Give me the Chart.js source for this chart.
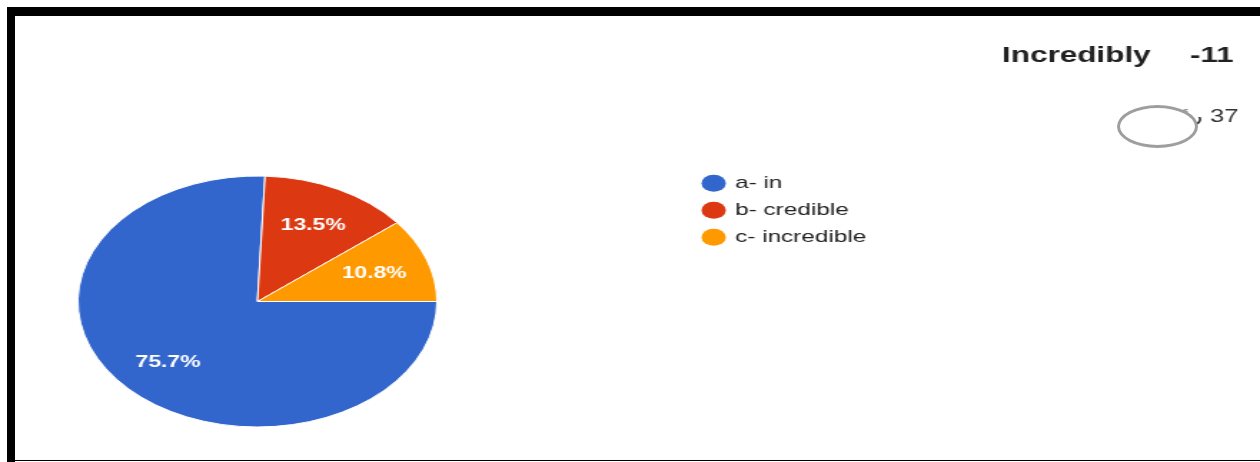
<!DOCTYPE html>
<html>
<head>
<meta charset="utf-8">
<script src="https://cdn.jsdelivr.net/npm/chart.js@4/dist/chart.umd.min.js"></script>
<style>
  html, body { margin: 0; padding: 0; background: #fff; }
  body { width: 1260px; height: 462px; position: relative; overflow: hidden; }
  /* the chart is drawn narrow and widened to the page width */
  #stretch { position: absolute; left: 0; top: 0; width: 881px; height: 462px;
             transform: scaleX(1.4302); transform-origin: 0 0; }
  .edge { position: absolute; background: #000; }
  #mark { position: absolute; left: 1117px; top: 105px; width: 81px; height: 43px;
          box-sizing: border-box; border: 3px solid #9e9e9e; border-radius: 50%; background: #fff; }
</style>
</head>
<body>
<div id="stretch"><canvas id="pie" width="881" height="462"></canvas></div>
<div class="edge" style="left:7px;top:7px;width:1253px;height:9px"></div>
<div class="edge" style="left:7px;top:7px;width:8px;height:455px"></div>
<div class="edge" style="left:7px;top:460px;width:1253px;height:1px"></div>
<div id="mark"></div>
<script>
const labels = ["a- in", "b- credible", "c- incredible"];
const counts = [28, 5, 4];
const colors = ["#3366cc", "#dc3912", "#ff9900"];
const heading = "Incredibly";
const headingScore = "-11";
const responsesWord = "ردًا";

const FONT = "'Liberation Sans', Arial, sans-serif";

// percentage text inside each slice
const sliceText = {
    id: "sliceText",
    afterDatasetsDraw(chart) {
        const ctx = chart.ctx;
        const meta = chart.getDatasetMeta(0);
        const sum = counts.reduce((a, b) => a + b, 0);
        ctx.save();
        ctx.font = "bold 16px " + FONT;
        ctx.fillStyle = "#ffffff";
        ctx.textAlign = "center";
        ctx.textBaseline = "middle";
        meta.data.forEach((arc, i) => {
            const p = arc.getProps(["x", "y", "startAngle", "endAngle", "outerRadius"], true);
            const mid = (p.startAngle + p.endAngle) / 2;
            const d = p.outerRadius * 0.69;
            ctx.fillText((counts[i] / sum * 100).toFixed(1) + "%", p.x + Math.cos(mid) * d, p.y + Math.sin(mid) * d + 1);
        });
        ctx.restore();
    }
};

// legend, heading and response count
const sideText = {
    id: "sideText",
    afterDraw(chart) {
        const ctx = chart.ctx;
        const ds = chart.data.datasets[0];
        ctx.save();
        ctx.textBaseline = "middle";
        ctx.font = "17px " + FONT;
        chart.data.labels.forEach((lab, i) => {
            const y = 183.3 + i * 27;
            ctx.fillStyle = ds.backgroundColor[i];
            ctx.beginPath();
            ctx.arc(499, y, 8.5, 0, Math.PI * 2);
            ctx.fill();
            ctx.fillStyle = "#222222";
            ctx.fillText(lab, 514, y + 0.5);
        });

        ctx.textBaseline = "alphabetic";
        ctx.fillStyle = "#212121";
        ctx.font = "bold 22px " + FONT;
        ctx.fillText(heading, 700.6, 61.5);
        ctx.fillText(headingScore, 832, 61.5);

        const sum = counts.reduce((a, b) => a + b, 0);
        ctx.fillStyle = "#333333";
        ctx.font = "18px " + FONT;
        ctx.fillText(String(sum), 846, 122);
        ctx.font = "18px 'DejaVu Sans', " + FONT;
        ctx.textAlign = "right";
        ctx.fillText(responsesWord, 841, 122);
        ctx.restore();
    }
};

new Chart(document.getElementById("pie").getContext("2d"), {
    type: "pie",
    data: {
        labels: labels,
        datasets: [{
            data: counts,
            backgroundColor: colors,
            borderColor: "#ffffff",
            borderWidth: 1
        }]
    },
    options: {
        responsive: false,
        animation: false,
        rotation: 90,
        layout: { padding: { left: 54, top: 175.5, right: 575, bottom: 34.5 } },
        plugins: {
            legend: { display: false },
            tooltip: { enabled: false }
        }
    },
    plugins: [sliceText, sideText]
});
</script>
</body>
</html>
